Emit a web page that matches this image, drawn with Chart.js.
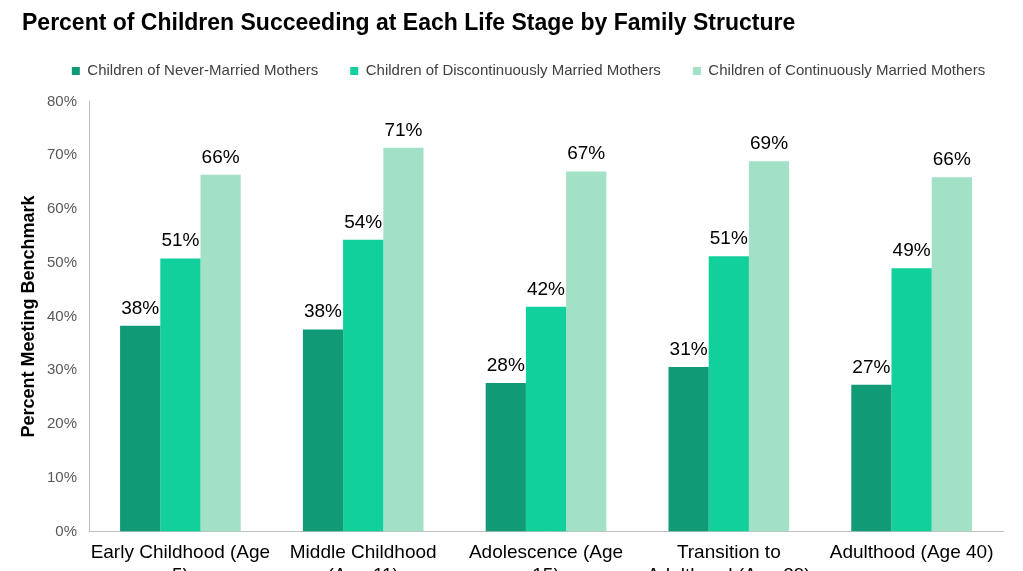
<!DOCTYPE html>
<html>
<head>
<meta charset="utf-8">
<script src="https://cdn.jsdelivr.net/npm/chart.js@4/dist/chart.umd.min.js"></script>
<style>
	html, body { margin: 0; padding: 0; background: #fff; overflow: hidden; }
	#wrap { width: 1023px; height: 597px; position: relative; }
</style>
</head>
<body>
<div id="wrap"><canvas id="myChart"></canvas></div>
<script>
// data
const stages = [
	["Early Childhood (Age", "5)"],
	["Middle Childhood", "(Age 11)"],
	["Adolescence (Age", "15)"],
	["Transition to", "Adulthood (Age 29)"],
	["Adulthood (Age 40)"],
];
const neverMarried = [38.3, 37.6, 27.6, 30.6, 27.3];
const discontinuouslyMarried = [50.8, 54.3, 41.8, 51.2, 49.0];
const continuouslyMarried = [66.4, 71.4, 67.0, 68.9, 65.9];
const seriesNames = [
	"Children of Never-Married Mothers",
	"Children of Discontinuously Married Mothers",
	"Children of Continuously Married Mothers",
];
const yTicks = [0, 10, 20, 30, 40, 50, 60, 70, 80];

const FONT = "'Liberation Sans', Arial, sans-serif";
Chart.defaults.font.family = FONT;

// draw the value above every bar
const barLabels = {
	id: "barLabels",
	afterDatasetsDraw(chart) {
		const ctx = chart.ctx;
		ctx.save();
		ctx.font = "19px " + FONT;
		ctx.fillStyle = "#000";
		ctx.textAlign = "center";
		ctx.textBaseline = "alphabetic";
		chart.data.datasets.forEach((ds, i) => {
			chart.getDatasetMeta(i).data.forEach((bar, j) => {
				ctx.fillText(Math.round(ds.data[j]) + "%", bar.x, bar.y - 12);
			});
		});
		ctx.restore();
	},
};

// extra room under the legend without spreading its items apart,
// and nudge it a little right like the original
const legendGap = {
	id: "legendGap",
	beforeLayout(chart) {
		const legend = chart.legend;
		if (!legend || legend._gapPatched) return;
		const fit = legend.fit;
		legend.fit = function () {
			fit.call(this);
			this.height += 13;
		};
		legend._gapPatched = true;
	},
	afterLayout(chart) {
		chart.legend.left += 16;
		chart.legend.right += 16;
	},
};

const chart = new Chart(document.getElementById("myChart").getContext("2d"), {
	type: "bar",
	data: {
		labels: stages,
		datasets: [
			{ label: seriesNames[0], data: neverMarried, backgroundColor: "#109A76" },
			{ label: seriesNames[1], data: discontinuouslyMarried, backgroundColor: "#12D09B" },
			{ label: seriesNames[2], data: continuouslyMarried, backgroundColor: "#A2E1C6" },
		],
	},
	plugins: [barLabels, legendGap],
	options: {
		responsive: true,
		maintainAspectRatio: false,
		animation: false,
		layout: {
			padding: { left: 22, right: 20, top: 0, bottom: 0 },
		},
		datasets: {
			bar: { categoryPercentage: 0.66, barPercentage: 1.0 },
		},
		plugins: {
			title: {
				display: true,
				text: "Percent of Children Succeeding at Each Life Stage by Family Structure",
				align: "start",
				color: "#000",
				font: { size: 23, weight: "bold" },
				padding: { top: 10, bottom: -6 },
			},
			legend: {
				display: true,
				position: "top",
				labels: {
					color: "#404040",
					font: { size: 15 },
					boxWidth: 8,
					boxHeight: 8,
					padding: 32,
				},
			},
			tooltip: { enabled: false },
		},
		scales: {
			x: {
				grid: { display: false, drawTicks: false },
				border: { display: true, color: "#BFBFBF", width: 1 },
				ticks: {
					color: "#000",
					font: { size: 19 },
					padding: 10,
					maxRotation: 0,
					autoSkip: false,
				},
			},
			y: {
				min: 0,
				max: 80,
				grid: { display: false, drawTicks: false },
				border: { display: true, color: "#BFBFBF", width: 1 },
				afterBuildTicks: (scale) => {
					scale.ticks = yTicks.map((v) => ({ value: v }));
				},
				afterFit: (scale) => {
					scale.width = 67;
				},
				ticks: {
					color: "#595959",
					font: { size: 15 },
					padding: 12,
					callback: (v) => v + "%",
				},
				title: {
					display: true,
					text: "Percent Meeting Benchmark",
					color: "#000",
					font: { size: 18, weight: "bold" },
					padding: { top: -4, bottom: 0 },
				},
			},
		},
	},
});
</script>
</body>
</html>
